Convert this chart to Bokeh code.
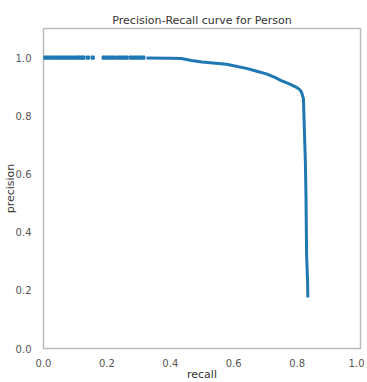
from bokeh.plotting import figure
from bokeh.embed import file_html
from bokeh.resources import INLINE
from bokeh.models import Range1d, FixedTicker, PrintfTickFormatter

# high-precision sparse points (precision = 1.0)
dot_recall = [0.000, 0.010, 0.020, 0.030, 0.040, 0.050, 0.060, 0.070, 0.080, 0.090,
              0.100, 0.110, 0.118, 0.126, 0.140, 0.155,
              0.190, 0.200, 0.210, 0.220, 0.232, 0.242, 0.252, 0.262, 0.275, 0.285,
              0.295, 0.305, 0.315]
dot_precision = [1.0] * len(dot_recall)

# main curve
recall = [0.325, 0.40, 0.435, 0.467, 0.50, 0.56, 0.577, 0.60, 0.64, 0.67, 0.703,
          0.73, 0.75, 0.77, 0.782, 0.798, 0.808, 0.814, 0.82, 0.823, 0.826, 0.828,
          0.830, 0.833, 0.834]
precision = [0.999, 0.998, 0.997, 0.990, 0.985, 0.979, 0.977, 0.972, 0.963, 0.954,
             0.944, 0.932, 0.921, 0.912, 0.906, 0.898, 0.890, 0.881, 0.859, 0.749,
             0.646, 0.526, 0.32, 0.234, 0.175]

x_ticks = [0.0, 0.2, 0.4, 0.6, 0.8, 1.0]
y_ticks = [0.0, 0.2, 0.4, 0.6, 0.8, 1.0]

blue = "#1f77b4"
grey = "#555555"

p = figure(frame_width=317, frame_height=320, output_backend="svg", toolbar_location=None,
           x_range=Range1d(0, 1), y_range=Range1d(0, 1.1),
           title="Precision-Recall curve for Person",
           min_border_left=30, min_border_right=4, min_border_top=28, min_border_bottom=0)

p.line(recall, precision, line_color=blue, line_width=3)
p.scatter(dot_recall, dot_precision, marker="square", size=3.2, color=blue)

p.title.align = "center"
p.title.text_font = "DejaVu Sans"
p.title.text_font_size = "11px"
p.title.text_font_style = "normal"
p.title.text_color = "#333333"
p.title.standoff = 4

p.xgrid.visible = False
p.ygrid.visible = False
p.outline_line_color = "#bbbbbb"
p.outline_line_width = 1.5

for ax in (p.xaxis[0], p.yaxis[0]):
    ax.axis_line_color = None
    ax.major_tick_line_color = None
    ax.minor_tick_line_color = None
    ax.major_label_text_font = "DejaVu Sans"
    ax.major_label_text_font_size = "10px"
    ax.major_label_text_color = grey
    ax.axis_label_text_font = "DejaVu Sans"
    ax.axis_label_text_font_size = "11px"
    ax.axis_label_text_font_style = "normal"
    ax.axis_label_text_color = "#333333"
    ax.formatter = PrintfTickFormatter(format="%.1f")

p.yaxis.major_label_standoff = 6
p.yaxis.axis_label_standoff = -4
p.xaxis.major_label_standoff = 4
p.xaxis.axis_label_standoff = -2

p.xaxis.ticker = FixedTicker(ticks=x_ticks)
p.yaxis.ticker = FixedTicker(ticks=y_ticks)
p.xaxis.axis_label = "recall"
p.yaxis.axis_label = "precision"

open("out.html", "w").write(file_html(p, INLINE))
